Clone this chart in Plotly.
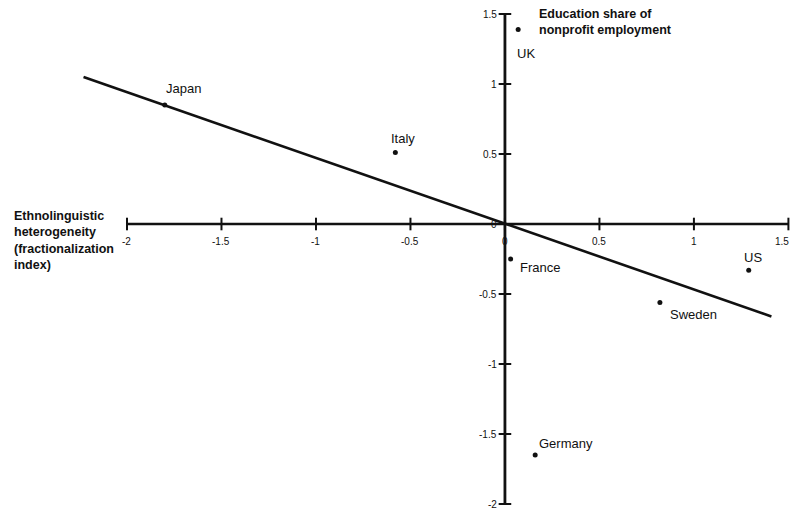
import plotly.graph_objects as go

# Country observations: ethnolinguistic heterogeneity (x) vs education share of
# nonprofit employment (y), both standardised
countries = ["Japan", "Italy", "UK", "France", "Sweden", "US", "Germany"]
heterogeneity = [-1.80, -0.58, 0.07, 0.03, 0.82, 1.29, 0.16]
education_share = [0.85, 0.51, 1.39, -0.25, -0.56, -0.33, -1.65]

# Fitted regression line endpoints
fit_x = [-2.23, 1.41]
fit_y = [1.05, -0.66]

# Axis ticks
x_ticks = [-2, -1.5, -1, -0.5, 0, 0.5, 1, 1.5]
x_tick_labels = ["-2", "-1.5", "-1", "-0.5", "0", "0.5", "1", "1.5"]
y_ticks = [1.5, 1, 0.5, 0, -0.5, -1, -1.5, -2]
y_tick_labels = ["1.5", "1", "0.5", "0", "-0.5", "-1", "-1.5", "-2"]

x_title = "Ethnolinguistic<br>heterogeneity<br>(fractionalization<br>index)"
y_title = "Education share of<br>nonprofit employment"

# Label placement for each country: (xanchor, xshift, yshift)
label_place = {
    "Japan": ("left", -1, 17),
    "Italy": ("left", -6, 14),
    "UK": ("left", -3, -24),
    "France": ("left", 7, -8),
    "Sweden": ("left", 8, -12),
    "US": ("center", 4, 13),
    "Germany": ("left", 2, 12),
}

FONT = "Liberation Sans, Arial, sans-serif"
INK = "#111111"

fig = go.Figure()

# Cross-shaped axes through the origin
fig.add_trace(go.Scatter(x=[x_ticks[0], x_ticks[-1]], y=[0, 0], mode="lines",
                         line=dict(color=INK, width=2.6), hoverinfo="skip"))
fig.add_trace(go.Scatter(x=[0, 0], y=[y_ticks[-1], y_ticks[0]], mode="lines",
                         line=dict(color=INK, width=2.8), hoverinfo="skip"))
fig.add_trace(go.Scatter(x=x_ticks, y=[0] * len(x_ticks), mode="markers",
                         marker=dict(symbol="line-ns", size=9,
                                     line=dict(color=INK, width=2)),
                         hoverinfo="skip"))
fig.add_trace(go.Scatter(x=[0] * len(y_ticks), y=y_ticks, mode="markers",
                         marker=dict(symbol="line-ew", size=9,
                                     line=dict(color=INK, width=2)),
                         hoverinfo="skip"))

# Regression line
fig.add_trace(go.Scatter(x=fit_x, y=fit_y, mode="lines",
                         line=dict(color=INK, width=2.6), hoverinfo="skip"))

# Country points
fig.add_trace(go.Scatter(x=heterogeneity, y=education_share, mode="markers",
                         marker=dict(color=INK, size=5), text=countries,
                         hoverinfo="text"))

annotations = []
for i, (v, lab) in enumerate(zip(x_ticks, x_tick_labels)):
    last = i == len(x_ticks) - 1
    annotations.append(dict(x=v, y=0, text=lab, showarrow=False,
                            xanchor="right" if last else "center",
                            xshift=3 if last else 0,
                            yanchor="middle", yshift=-17,
                            font=dict(family=FONT, size=10, color=INK)))
for v, lab in zip(y_ticks, y_tick_labels):
    annotations.append(dict(x=0, y=v, text=lab, showarrow=False,
                            xanchor="right", yanchor="middle", xshift=-6,
                            font=dict(family=FONT, size=10, color=INK)))

for name, xv, yv in zip(countries, heterogeneity, education_share):
    anchor, dx, dy = label_place[name]
    annotations.append(dict(x=xv, y=yv, text=name, showarrow=False,
                            xanchor=anchor, yanchor="middle",
                            xshift=dx, yshift=dy,
                            font=dict(family=FONT, size=13, color=INK)))

annotations.append(dict(xref="paper", yref="paper", x=12 / 792, y=1 - 207 / 512,
                        text="<b>" + x_title + "</b>", showarrow=False,
                        xanchor="left", yanchor="top", align="left",
                        font=dict(family=FONT, size=12.5, color=INK)))
annotations.append(dict(xref="paper", yref="paper", x=537 / 792, y=1 - 5 / 512,
                        text="<b>" + y_title + "</b>", showarrow=False,
                        xanchor="left", yanchor="top", align="left",
                        font=dict(family=FONT, size=12.5, color=INK)))

fig.update_layout(
    width=792, height=512,
    margin=dict(l=0, r=0, t=0, b=0),
    paper_bgcolor="white", plot_bgcolor="white",
    showlegend=False,
    xaxis=dict(range=[-2.672, 1.519], visible=False, fixedrange=True),
    yaxis=dict(range=[-2.057, 1.6], visible=False, fixedrange=True),
    annotations=annotations,
)

fig.write_html("out.html")
